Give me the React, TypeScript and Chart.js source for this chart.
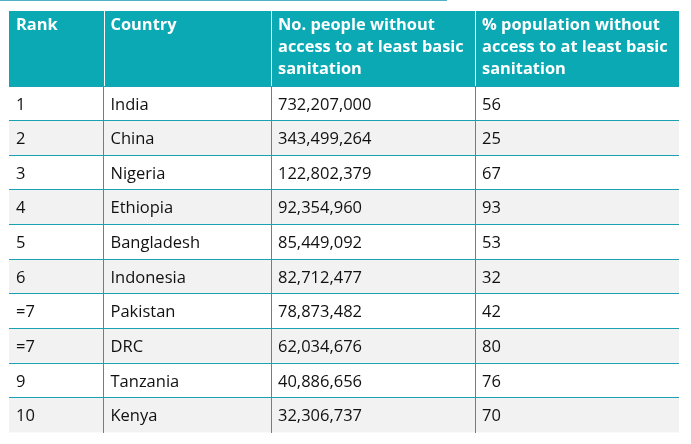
import React, { useEffect, useRef } from "react";
import { Chart, registerables } from "chart.js";

Chart.register(...registerables);

const HEADERS: string[][] = [
  ["Rank"],
  ["Country"],
  ["No. people without", "access to at least basic", "sanitation"],
  ["% population without", "access to at least basic", "sanitation"],
];
const RANKS = ["1", "2", "3", "4", "5", "6", "=7", "=7", "9", "10"];
const COUNTRIES = [
  "India",
  "China",
  "Nigeria",
  "Ethiopia",
  "Bangladesh",
  "Indonesia",
  "Pakistan",
  "DRC",
  "Tanzania",
  "Kenya",
];
const PEOPLE = [
  732207000, 343499264, 122802379, 92354960, 85449092, 82712477, 78873482,
  62034676, 40886656, 32306737,
];
const PERCENT = [56, 25, 67, 93, 53, 32, 42, 80, 76, 70];

// layout (table width units = pixels)
const TABLE_W = 670;
const COL_EDGES = [0, 94.5, 262, 466, TABLE_W];
const TEAL = "#0aa9b4";
const LINE = "#1ba2b2";
const GREY = "#f2f2f2";
const FONT = '"Open Sans", "Noto Sans", sans-serif';
const PAD_X = 7;

export default function App() {
  const ref = useRef<HTMLCanvasElement | null>(null);

  useEffect(() => {
    const canvas = ref.current;
    if (!canvas) return;

    const tablePlugin = {
      id: "tableText",
      beforeDraw(chart: any) {
        const { ctx, chartArea, scales } = chart;
        const x = scales.x;
        ctx.save();
        // top decorative line
        ctx.strokeStyle = "#4fb0c6";
        ctx.lineWidth = 1;
        ctx.beginPath();
        ctx.moveTo(0, 0.5);
        ctx.lineTo(447, 0.5);
        ctx.stroke();
        // header background
        const hTop = 11;
        const left = x.getPixelForValue(0);
        const right = x.getPixelForValue(TABLE_W);
        ctx.fillStyle = TEAL;
        ctx.fillRect(left, hTop, right - left, chartArea.top - hTop);
        // header dividers
        ctx.strokeStyle = "#ffffff";
        for (let c = 1; c < COL_EDGES.length - 1; c++) {
          const px = Math.round(x.getPixelForValue(COL_EDGES[c])) + 0.5;
          ctx.beginPath();
          ctx.moveTo(px, hTop);
          ctx.lineTo(px, chartArea.top);
          ctx.stroke();
        }
        // header text
        ctx.fillStyle = "#ffffff";
        ctx.font = `bold 16.4px ${FONT}`;
        ctx.textBaseline = "middle";
        ctx.textAlign = "left";
        HEADERS.forEach((lines, c) => {
          const px = x.getPixelForValue(COL_EDGES[c]) + PAD_X;
          lines.forEach((t, i) => {
            ctx.fillText(t, px, 25 + i * 22.3);
          });
        });
        ctx.restore();
      },
      afterDraw(chart: any) {
        const { ctx, scales } = chart;
        const x = scales.x;
        const y = scales.y;
        ctx.save();
        ctx.fillStyle = "#111111";
        ctx.font = `16.5px ${FONT}`;
        ctx.textBaseline = "middle";
        ctx.textAlign = "left";
        RANKS.forEach((r, i) => {
          const py = y.getPixelForValue(i);
          const cells = [
            r,
            COUNTRIES[i],
            PEOPLE[i].toLocaleString("en-US"),
            String(PERCENT[i]),
          ];
          cells.forEach((t, c) => {
            ctx.fillText(t, x.getPixelForValue(COL_EDGES[c]) + PAD_X, py + 1.5);
          });
        });
        ctx.restore();
      },
    };

    const chart = new Chart(canvas, {
      type: "bar",
      data: {
        labels: RANKS.map((r, i) => `${r}-${i}`),
        datasets: [
          {
            data: RANKS.map(() => [0, TABLE_W]) as any,
            backgroundColor: RANKS.map((_, i) => (i % 2 === 1 ? GREY : "#ffffff")),
            borderWidth: 0,
            categoryPercentage: 1,
            barPercentage: 1,
          },
        ],
      },
      options: {
        indexAxis: "y",
        responsive: false,
        animation: false,
        devicePixelRatio: 1,
        layout: { padding: { left: 9, right: 12, top: 86, bottom: 11.5 } },
        plugins: {
          legend: { display: false },
          tooltip: { enabled: false },
          title: { display: false },
        },
        events: [],
        scales: {
          x: {
            type: "linear",
            min: 0,
            max: TABLE_W,
            afterBuildTicks: (scale: any) => {
              scale.ticks = COL_EDGES.slice(1, -1).map((v) => ({ value: v }));
            },
            ticks: { display: false },
            border: { display: false },
            grid: { drawTicks: false, color: LINE, lineWidth: 1, z: 1 },
          },
          y: {
            type: "category",
            offset: true,
            ticks: { display: false },
            border: { display: false },
            grid: {
              offset: true,
              drawTicks: false,
              z: 1,
              lineWidth: 1,
              color: (ctx: any) => (ctx.type === "tick" ? LINE : "rgba(0,0,0,0)"),
            },
          },
        },
      } as any,
      plugins: [tablePlugin],
    });

    return () => chart.destroy();
  }, []);

  return (
    <div style={{ position: "absolute", left: 0, top: 0, width: 691, height: 444, background: "#ffffff" }}>
      <canvas ref={ref} width={691} height={444} style={{ display: "block" }} />
    </div>
  );
}
